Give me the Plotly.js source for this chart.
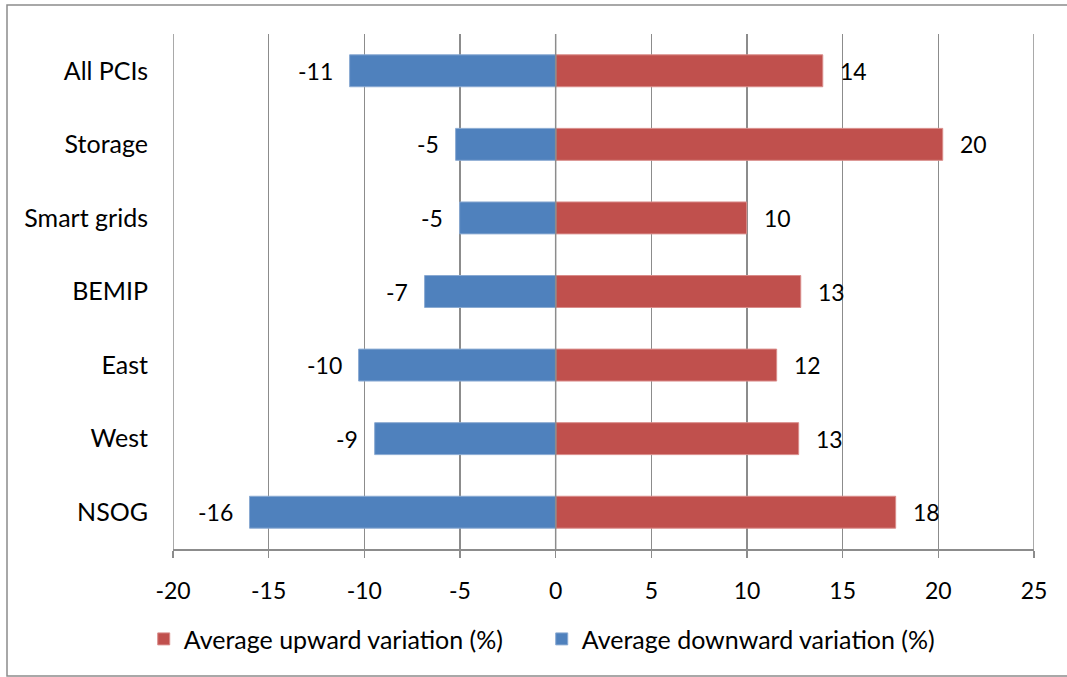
<!DOCTYPE html>
<html>
<head>
<meta charset="utf-8">
<script src="https://cdn.plot.ly/plotly-3.0.1.min.js"></script>
<style>
  html, body { margin: 0; padding: 0; background: #fff; }
  #chart { width: 1067px; height: 677px; }
</style>
</head>
<body>
<div id="chart"></div>
<script>
// Project groups, listed bottom to top as drawn on the category axis
const categories = ['NSOG', 'West', 'East', 'BEMIP', 'Smart grids', 'Storage', 'All PCIs'];

// Average variations per group, in percent
const upward = [17.77, 12.70, 11.55, 12.81, 9.98, 20.23, 13.96];
const downward = [-16.0, -9.46, -10.3, -6.85, -5.02, -5.23, -10.77];

const xTicks = [-20, -15, -10, -5, 0, 5, 10, 15, 20, 25];

const RED = '#C0504D';
const BLUE = '#4F81BD';
const GRID = '#8c8c8c';
const FONT = 'Lato, "Open Sans", sans-serif';

const traces = [
  {
    type: 'bar', orientation: 'h', name: 'Average upward variation (%)',
    y: categories, x: upward,
    marker: { color: RED, line: { color: '#d98c8a', width: 1 } },
    hoverinfo: 'x+y'
  },
  {
    type: 'bar', orientation: 'h', name: 'Average downward variation (%)',
    y: categories, x: downward,
    marker: { color: BLUE, line: { color: '#8aaad2', width: 1 } },
    hoverinfo: 'x+y'
  }
];

// Value labels sit just beyond the end of each bar
const annotations = [];
upward.forEach((v, i) => annotations.push({
  x: v, y: categories[i], xref: 'x', yref: 'y',
  text: String(Math.round(v)), showarrow: false,
  xanchor: 'left', xshift: 15, font: { family: FONT, size: 23, color: '#000' }
}));
downward.forEach((v, i) => annotations.push({
  x: v, y: categories[i], xref: 'x', yref: 'y',
  text: String(Math.round(v)), showarrow: false,
  xanchor: 'right', xshift: -15, font: { family: FONT, size: 23, color: '#000' }
}));

// Gridlines at both ends of the value axis (Plotly skips those on the plot edge)
const edgeGrid = [xTicks[0], xTicks[xTicks.length - 1]].map(v => ({
  type: 'line', xref: 'x', yref: 'paper', x0: v, x1: v, y0: 0, y1: 1,
  line: { color: GRID, width: 1.5 }, layer: 'below'
}));

const layout = {
  width: 1067, height: 677,
  margin: { l: 173, r: 33, t: 34, b: 128 },
  paper_bgcolor: '#fff', plot_bgcolor: '#fff',
  font: { family: FONT, size: 22, color: '#000' },
  barmode: 'relative',
  bargap: 0.566,
  showlegend: true,
  legend: {
    orientation: 'h', x: -0.034, xanchor: 'left', y: -0.175, yanchor: 'middle',
    traceorder: 'normal', font: { family: FONT, size: 25 }, itemwidth: 30,
    entrywidth: 353, bgcolor: 'rgba(0,0,0,0)'
  },
  xaxis: {
    range: [xTicks[0], xTicks[xTicks.length - 1]], tickvals: xTicks, ticktext: xTicks.map(String),
    showgrid: true, gridcolor: GRID, gridwidth: 1.5,
    zeroline: false,
    showline: true, linecolor: GRID, linewidth: 1.5,
    ticks: 'outside', ticklen: 7, tickcolor: GRID, tickwidth: 1.5,
    ticklabelstandoff: 14,
    tickfont: { family: FONT, size: 23 },
    fixedrange: true
  },
  yaxis: {
    type: 'category', showgrid: false, zeroline: false, showline: false,
    ticks: '', ticklabelstandoff: 24,
    tickfont: { family: FONT, size: 25 },
    fixedrange: true
  },
  annotations: annotations,
  shapes: edgeGrid.concat([
    // vertical axis at zero, drawn over the bars
    { type: 'line', xref: 'x', yref: 'paper', x0: 0, x1: 0, y0: 0, y1: 1,
      line: { color: GRID, width: 1.5 }, layer: 'above' },
    // chart frame
    { type: 'rect', xref: 'paper', yref: 'paper',
      x0: -166 / 861, x1: 1.1, y0: -127 / 515, y1: 1 + 29 / 515,
      line: { color: GRID, width: 1.5 }, layer: 'below' }
  ])
};

Plotly.newPlot('chart', traces, layout, { displayModeBar: false, staticPlot: true });
</script>
</body>
</html>
